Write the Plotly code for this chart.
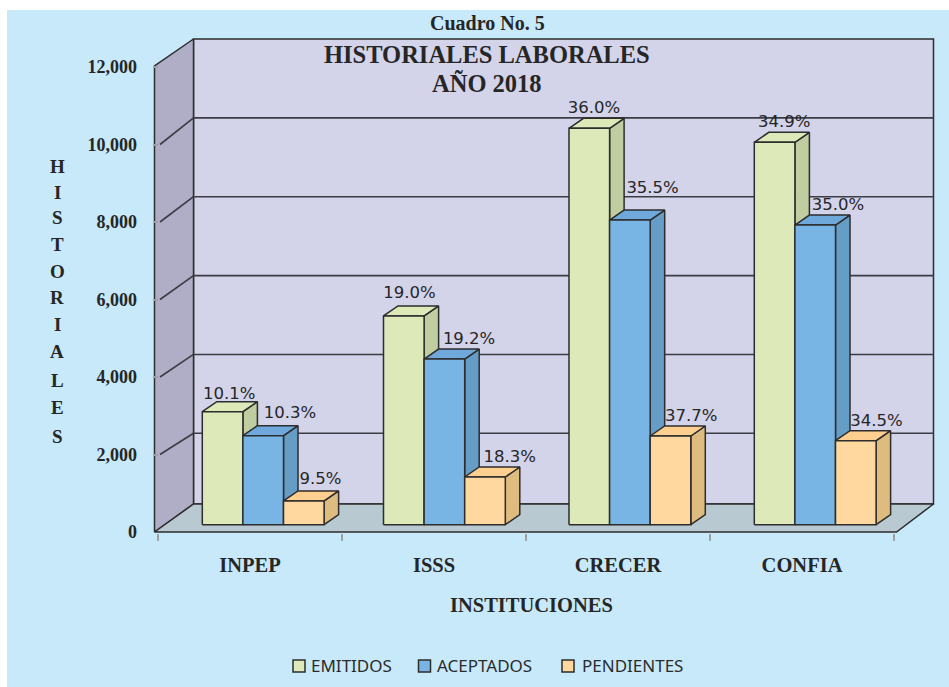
import plotly.graph_objects as go

# ---------- data ----------
categories = ["INPEP", "ISSS", "CRECER", "CONFIA"]
emitidos = [2916, 5386, 10230, 9868]
aceptados = [2297, 4276, 7863, 7734]
pendientes = [612, 1231, 2289, 2168]
pct_emitidos = ["10.1%", "19.0%", "36.0%", "34.9%"]
pct_aceptados = ["10.3%", "19.2%", "35.5%", "35.0%"]
pct_pendientes = ["9.5%", "18.3%", "37.7%", "34.5%"]
y_ticks = [0, 2000, 4000, 6000, 8000, 10000, 12000]
y_axis_letters = list("HISTORIALES")
title_lines = ["HISTORIALES LABORALES", "AÑO 2018"]

# ---------- geometry / style ----------
W, H = 949, 687
L, R, T, B = 153, 940, 37, 533
PX_PER_CAT = 184.0
PX_PER_VAL = 0.03875
X0_PX, Y0_PX = 158.0, 532.0


def xu(px):
    return (px - X0_PX) / PX_PER_CAT


def yu(py):
    return (Y0_PX - py) / PX_PER_VAL


def px_x(px):
    return (px - L) / (R - L)


def px_y(py):
    return (B - py) / (B - T)


GROUP_LEFT_PX = [202.3, 383.5, 569.0, 754.3]
BAR_STEP_PX = 40.6
BAR_BASE_VAL = yu(524.7)
DEPTH_X = xu(X0_PX + 14.5)
DEPTH_Y = 10.0 / PX_PER_VAL
LINE = "#2d2d2d"
TXT = "#262626"
SERIF = "Liberation Serif"
styles = [
    ("EMITIDOS", emitidos, pct_emitidos, "#DDE9B8", "#BFCDA0", "#DDE9B8",
     [(27, -17), (26, -22), (25, -19), (30, -19)]),
    ("ACEPTADOS", aceptados, pct_aceptados, "#78B4E4", "#669DC6", "#6FA9DC",
     [(47, -22), (45, -19), (43, -31), (43, -19)]),
    ("PENDIENTES", pendientes, pct_pendientes, "#FFD89F", "#DEBC7F", "#FFCF8F",
     [(37, -21), (45, -19), (41, -19), (41, -19)]),
]

fig = go.Figure()


def poly(xs, ys, fill, width=1.5, name=None):
    fig.add_trace(go.Scatter(
        x=xs, y=ys, mode="lines", fill="toself", fillcolor=fill,
        line=dict(color=LINE, width=width), hoverinfo="skip",
        showlegend=False, name=name, cliponaxis=False))


def seg(xs, ys, width=1.5, color="#3c3c44"):
    fig.add_trace(go.Scatter(
        x=xs, y=ys, mode="lines", line=dict(color=color, width=width),
        hoverinfo="skip", showlegend=False, cliponaxis=False))


# walls and floor
wl, wb, wr, fr = xu(154.5), xu(193.5), xu(933.5), xu(896.5)
floor_back = yu(504)
wall_top = yu(39)
front_top = yu(66)
poly([wb, wr, wr, wb, wb], [floor_back, floor_back, wall_top, wall_top, floor_back], "#D3D3EA")
poly([wl, wb, wb, wl, wl], [0, floor_back, wall_top, front_top, 0], "#B0AEC6")
poly([wl, wb, wr, fr, wl], [0, floor_back, floor_back, 0, 0], "#B9C9D2")

# gridlines on back and side walls
BACK_SCALE = (yu(39) - yu(433.3)) / 10000.0
BACK_OFF = yu(433.3) - 2000 * BACK_SCALE
for t in y_ticks[1:-1]:
    gy = t * BACK_SCALE + BACK_OFF
    seg([wb, wr], [gy, gy], 1.6)
    seg([xu(160), wb], [t, gy], 1.6)

# bars: side, top and front faces, series by series
label_x, label_y, label_t = [], [], []
for s, (name, vals, pcts, front, side, top, offs) in enumerate(styles):
    fx, fy, sx, sy, tx, ty = [], [], [], [], [], []
    for g, v in enumerate(vals):
        left_px = GROUP_LEFT_PX[g] + s * BAR_STEP_PX
        a, b = xu(left_px), xu(left_px + BAR_STEP_PX)
        y0, y1 = BAR_BASE_VAL, BAR_BASE_VAL + v
        fx += [a, b, b, a, a, None]
        fy += [y0, y0, y1, y1, y0, None]
        sx += [b, b + DEPTH_X, b + DEPTH_X, b, b, None]
        sy += [y0, y0 + DEPTH_Y, y1 + DEPTH_Y, y1, y0, None]
        tx += [a, b, b + DEPTH_X, a + DEPTH_X, a, None]
        ty += [y1, y1, y1 + DEPTH_Y, y1 + DEPTH_Y, y1, None]
        label_x.append(xu(left_px + offs[g][0]))
        label_y.append(y1 - offs[g][1] / PX_PER_VAL)
        label_t.append(pcts[g])
    poly(sx, sy, side, name=name)
    poly(tx, ty, top, name=name)
    poly(fx, fy, front, name=name)

fig.add_trace(go.Scatter(
    x=label_x, y=label_y, text=label_t, mode="text", textposition="middle center",
    textfont=dict(family="DejaVu Sans", size=16.5, color=TXT),
    hoverinfo="skip", showlegend=False, cliponaxis=False))

annotations = []


def note(text, px, py, size, family=SERIF, color=TXT, xanchor="center"):
    annotations.append(dict(
        text=text, x=px_x(px), y=px_y(py), xref="paper", yref="paper",
        xanchor=xanchor, yanchor="middle", showarrow=False,
        font=dict(family=family, size=size, color=color)))


note("<b>Cuadro No. 5</b>", 487, 23, 20)
note("<b>" + title_lines[0] + "</b>", 487, 55, 24.5)
note("<b>" + title_lines[1] + "</b>", 487, 84, 24.5)
note("<b>INSTITUCIONES</b>", 531, 605, 20.5)
letter_y = [166, 192, 217, 244, 271, 298, 325, 352, 380, 407, 436]
for ch, py in zip(y_axis_letters, letter_y):
    note("<b>" + ch + "</b>", 57, py, 19)

shapes = [dict(type="rect", xref="paper", yref="paper", layer="below",
               x0=px_x(7), x1=px_x(W + 5), y0=px_y(10), y1=px_y(H + 5),
               fillcolor="#C7E9FA", line=dict(width=0))]
legend_sw = [299, 424.5, 568]
legend_tx = [309, 435, 580]
for (name, _, _, front, _, _, _), sw, tx in zip(styles, legend_sw, legend_tx):
    shapes.append(dict(type="rect", xref="paper", yref="paper",
                       x0=px_x(sw - 6), x1=px_x(sw + 6), y0=px_y(660), y1=px_y(672),
                       fillcolor=front, line=dict(color=LINE, width=1.5)))
    note(name, tx, 665, 17, family="Noto Sans", color="#2b2b2b", xanchor="left")

fig.update_layout(
    width=W, height=H, autosize=False,
    margin=dict(l=L, r=W - R, t=T, b=H - B, pad=0),
    paper_bgcolor="white", plot_bgcolor="rgba(0,0,0,0)",
    showlegend=False, annotations=annotations, shapes=shapes,
    xaxis=dict(
        range=[xu(L), xu(R)], showgrid=False, zeroline=False, showline=False,
        tickmode="array", tickvals=[i + 0.5 for i in range(len(categories))],
        ticktext=["<b>%s</b>" % c for c in categories],
        ticks="outside", ticklen=0, ticklabelstandoff=13,
        tickfont=dict(family=SERIF, size=20.5, color=TXT),
        minor=dict(tickmode="array", tickvals=list(range(len(categories) + 1)),
                   ticks="outside", ticklen=7, tickwidth=1.5, tickcolor="#a0a0a0",
                   showgrid=False),
    ),
    yaxis=dict(
        range=[yu(B), yu(T)], showgrid=False, zeroline=False, showline=False,
        tickmode="array", tickvals=y_ticks,
        ticktext=["<b>{:,}</b>".format(v) for v in y_ticks],
        ticks="inside", ticklen=5, tickwidth=1.5, tickcolor="#a0a0a0",
        ticklabelstandoff=15,
        tickfont=dict(family=SERIF, size=18, color=TXT),
    ),
)

fig.write_html("out.html", post_script="document.body.style.margin='0';",
               config={"displayModeBar": False})
